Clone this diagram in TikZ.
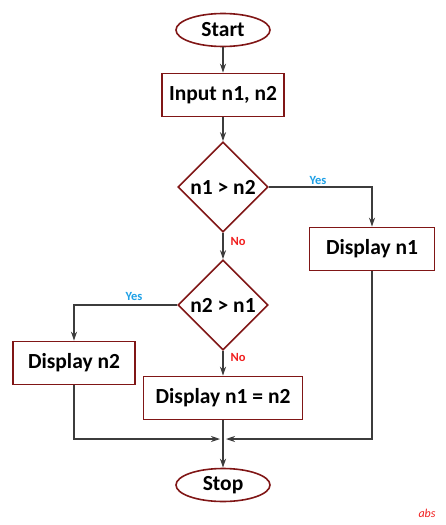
\documentclass[tikz,border=0pt]{standalone}
\usepackage{fontspec}
\setmainfont{Carlito}
\usepackage{tikz}
\usetikzlibrary{arrows.meta, shapes.geometric}
\definecolor{frame}{RGB}{128,22,22}
\definecolor{yesblue}{RGB}{30,160,230}
\definecolor{nored}{RGB}{240,30,30}
\definecolor{wire}{RGB}{60,60,60}

\begin{document}
\begin{tikzpicture}[x=1pt, y=-1pt,
    term/.style={ellipse, draw=frame, line width=1.6pt, minimum width=94pt,
        minimum height=33pt, inner sep=0pt, font=\fontsize{21.5}{24}\selectfont\bfseries},
    proc/.style={rectangle, draw=frame, line width=1.6pt, minimum height=43pt,
        inner sep=0pt, font=\fontsize{21.5}{24}\selectfont\bfseries},
    decide/.style={diamond, draw=frame, line width=1.6pt, minimum width=90pt,
        minimum height=90pt, inner sep=0pt, font=\fontsize{21.5}{24}\selectfont\bfseries},
    flow/.style={draw=wire, line width=1.1pt, -{Stealth[length=9pt, width=6pt]}},
    yes/.style={font=\fontsize{12.5}{14}\selectfont\bfseries, text=yesblue},
    no/.style={font=\fontsize{12.5}{14}\selectfont\bfseries, text=nored}]
    % 画布大小
    \useasboundingbox (0,0) rectangle (445,525);

    % 1. 开始与输入
    \node[term] (start) at (223,30) {Start};
    \node[proc, minimum width=122pt] (input) at (223,95) {Input n1, n2};

    % 2. 两个判断
    \node[decide] (cmpa) at (223,187) {n1 > n2};
    \node[decide] (cmpb) at (223,305) {n2 > n1};

    % 3. 三个输出框
    \node[proc, minimum width=125pt] (shownA) at (372,249) {Display n1};
    \node[proc, minimum width=122pt] (shownB) at (74,363) {Display n2};
    \node[proc, minimum width=159pt] (showeq) at (223,398) {Display n1 = n2};

    % 4. 结束
    \node[term] (stop) at (223,485) {Stop};
    \coordinate (merge) at (223,439);

    % 连线
    \draw[flow] (start) -- (input);
    \draw[flow] (input) -- (cmpa);
    \draw[flow] (cmpa.east) -| (shownA.north);
    \draw[flow] (cmpa) -- (cmpb);
    \draw[flow] (cmpb.west) -| (shownB.north);
    \draw[flow] (cmpb) -- (showeq);
    \draw[flow, shorten >=3pt] (shownB.south) |- (merge);
    \draw[flow, shorten >=3pt] (shownA.south) |- (merge);
    \draw[flow] (showeq) -- (stop);

    % 分支标注
    \node[yes] (yesA) at (318,180) {Yes};
    \node[no] (noA) at (238,241) {No};
    \node[yes] (yesB) at (134,296) {Yes};
    \node[no] (noB) at (238,357) {No};

    % 角落签名
    \node[font=\fontsize{12}{14}\selectfont\itshape, text=nored] (sig) at (427,513) {abs};
\end{tikzpicture}
\end{document}
